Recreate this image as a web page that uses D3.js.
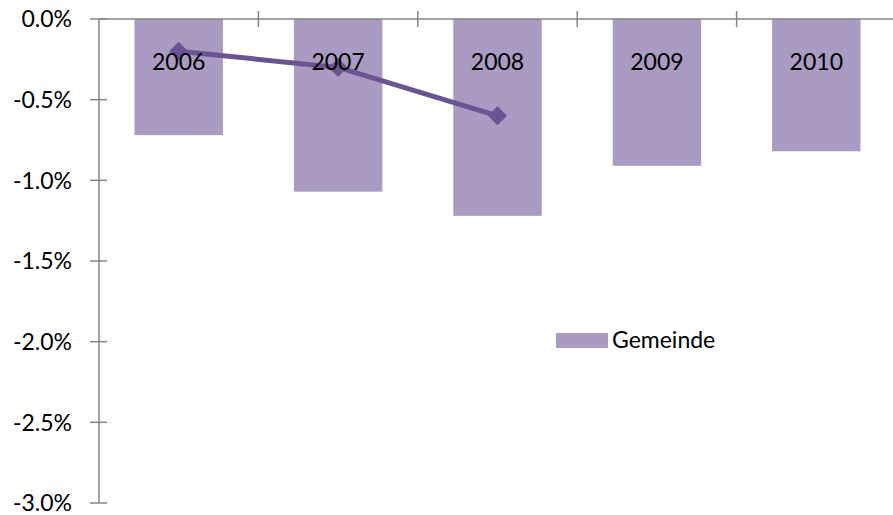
<!DOCTYPE html>
<html>
<head>
<meta charset="utf-8">
<script src="https://cdn.jsdelivr.net/npm/d3@7"></script>
<style>
  body { margin: 0; background: #fff; }
  svg text { font-family: Lato, "Open Sans", sans-serif; fill: #000; }
</style>
</head>
<body>
<svg id="chart" width="893" height="515"></svg>
<script>
'use strict';

const years = ['2006', '2007', '2008', '2009', '2010'];
const gemeinde = [-0.72, -1.07, -1.22, -0.91, -0.82];
const lineYears = ['2006', '2007', '2008'];
const lineValues = [-0.20, -0.30, -0.60];
const yTicks = [0, -0.5, -1.0, -1.5, -2.0, -2.5, -3.0];

const svg = d3.select('#chart');

const x = d3.scaleBand()
    .domain(years)
    .range([99, 896])
    .paddingInner(0.445)
    .paddingOuter(0.2225);

const y = d3.scaleLinear()
    .domain([0, -3])
    .range([19, 503]);

const axisColor = '#868686';
const fmt = (d) => d.toFixed(1) + '%';

// bars
svg.append('g').selectAll('rect')
    .data(years)
    .enter().append('rect')
    .attr('x', (d) => x(d))
    .attr('width', x.bandwidth())
    .attr('y', y(0))
    .attr('height', (d, i) => y(gemeinde[i]) - y(0))
    .attr('fill', '#a99bc1');

// y axis
const yAxis = svg.append('g');
yAxis.append('line')
    .attr('x1', 99).attr('x2', 99)
    .attr('y1', y(0)).attr('y2', y(-3))
    .attr('stroke', axisColor).attr('stroke-width', 1.5);
yAxis.selectAll('.tick')
    .data(yTicks)
    .enter().append('line')
    .attr('x1', 90).attr('x2', 107)
    .attr('y1', (d) => y(d)).attr('y2', (d) => y(d))
    .attr('stroke', axisColor).attr('stroke-width', 1.5);
yAxis.selectAll('text')
    .data(yTicks)
    .enter().append('text')
    .attr('x', 72)
    .attr('y', (d) => y(d))
    .attr('dy', '0.36em')
    .attr('text-anchor', 'end')
    .style('font-size', '23px')
    .text(fmt);

// x axis at zero, ticks between categories
const step = x.step();
const xTickPos = d3.range(1, years.length + 1).map((i) => 99 + i * step);
svg.append('line')
    .attr('x1', 99).attr('x2', 893)
    .attr('y1', y(0)).attr('y2', y(0))
    .attr('stroke', axisColor).attr('stroke-width', 1.5);
svg.append('g').selectAll('line')
    .data(xTickPos)
    .enter().append('line')
    .attr('x1', (d) => d).attr('x2', (d) => d)
    .attr('y1', y(0) - 8).attr('y2', y(0) + 8)
    .attr('stroke', axisColor).attr('stroke-width', 1.5);

// line series
const cx = (d) => x(d) + x.bandwidth() / 2;
const pts = lineYears.map((d, i) => [cx(d), y(lineValues[i])]);
svg.append('path')
    .attr('d', d3.line()(pts))
    .attr('fill', 'none')
    .attr('stroke', '#6b5492')
    .attr('stroke-width', 5)
    .attr('stroke-linejoin', 'round');
svg.append('g').selectAll('path')
    .data(pts)
    .enter().append('path')
    .attr('d', d3.symbol().type(d3.symbolSquare).size(180)())
    .attr('transform', (d) => 'translate(' + d[0] + ',' + d[1] + ') rotate(45)')
    .attr('fill', '#6b5492');

// category labels
svg.append('g').selectAll('text')
    .data(years)
    .enter().append('text')
    .attr('x', (d) => cx(d))
    .attr('y', 70)
    .attr('text-anchor', 'middle')
    .style('font-size', '23px')
    .text((d) => d);

// legend
svg.append('rect')
    .attr('x', 556).attr('y', 333)
    .attr('width', 52).attr('height', 15)
    .attr('fill', '#a99bc1');
svg.append('text')
    .attr('x', 612).attr('y', 348)
    .style('font-size', '23px')
    .text('Gemeinde');
</script>
</body>
</html>
